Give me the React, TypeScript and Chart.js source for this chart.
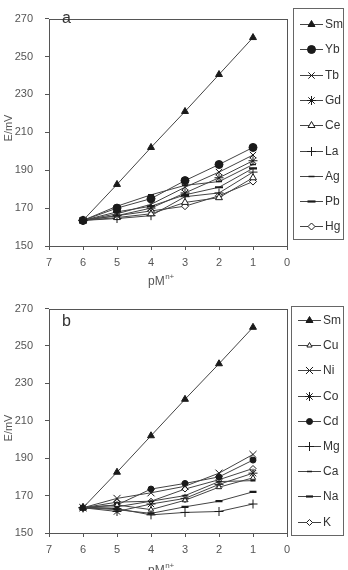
import React, { useEffect, useRef } from 'react';
import { Chart, registerables } from 'chart.js';
import { drawPoint } from 'chart.js/helpers';

Chart.register(...registerables);

// Concentration steps (pM^n+) and axis ticks
const pM = [6, 5, 4, 3, 2, 1];
const xTicks = [7, 6, 5, 4, 3, 2, 1, 0];
const yTicks = [150, 170, 190, 210, 230, 250, 270];

// Panel a: electrode potential (mV) for each ion
const smA = [163.5, 182.5, 202, 221, 240.5, 260];
const ybA = [163.5, 170, 175, 184.5, 193, 202];
const tbA = [163.5, 167, 172, 181, 189, 198];
const gdA = [163.5, 166, 170, 178, 186, 195];
const ceA = [163.5, 165, 167, 173, 175.5, 186];
const laA = [163.5, 164.5, 166, 176, 178, 189];
const agA = [163.5, 171, 177, 182, 184, 193];
const pbA = [163.5, 168, 171, 177, 181, 191];
const hgA = [163.5, 166, 168.5, 171, 176.5, 184];

// Panel b
const smB = [163.5, 182.5, 202, 221.5, 240.5, 260];
const cuB = [163.5, 165, 162.5, 167.5, 174.5, 179.5];
const niB = [163.5, 168.5, 171.5, 175, 182, 192];
const coB = [163.5, 161.5, 165.5, 168.5, 176, 182];
const cdB = [163.5, 165, 173.5, 176.5, 180, 189];
const mgB = [163.5, 163, 159.7, 161, 161.5, 165.5];
const caB = [163.5, 164, 167, 170, 177.5, 178];
const naB = [163.5, 162.5, 160.5, 164, 167, 172];
const kB = [163.5, 166.5, 167, 173.5, 178.5, 184.5];

const FONT = "'Liberation Sans', Arial, sans-serif";
const LINE = '#444';
const MARK = '#1a1a1a';

type Marker = { style: string; r: number; fill: boolean; w?: number };

const filledTri: Marker = { style: 'triangle', r: 4, fill: true };

const seriesA: [string, number[], Marker][] = [
  ['Sm', smA, filledTri],
  ['Yb', ybA, { style: 'circle', r: 4, fill: true }],
  ['Tb', tbA, { style: 'crossRot', r: 4.5, fill: false }],
  ['Gd', gdA, { style: 'star', r: 4.5, fill: false }],
  ['Ce', ceA, { style: 'triangle', r: 4, fill: false }],
  ['La', laA, { style: 'cross', r: 4.5, fill: false }],
  ['Ag', agA, { style: 'line', r: 3, fill: false, w: 1.5 }],
  ['Pb', pbA, { style: 'line', r: 4, fill: false, w: 2.2 }],
  ['Hg', hgA, { style: 'rectRot', r: 3.5, fill: false }],
];

const seriesB: [string, number[], Marker][] = [
  ['Sm', smB, filledTri],
  ['Cu', cuB, { style: 'triangle', r: 3, fill: false }],
  ['Ni', niB, { style: 'crossRot', r: 5, fill: false }],
  ['Co', coB, { style: 'star', r: 4.5, fill: false }],
  ['Cd', cdB, { style: 'circle', r: 3, fill: true }],
  ['Mg', mgB, { style: 'cross', r: 4.5, fill: false }],
  ['Ca', caB, { style: 'line', r: 2.5, fill: false, w: 1.5 }],
  ['Na', naB, { style: 'line', r: 3.5, fill: false, w: 2.2 }],
  ['K', kB, { style: 'rectRot', r: 3, fill: false }],
];

// Draws the plot frame, panel letter, axis titles and the boxed legend
const panelPlugin = {
  id: 'panel',
  afterDraw(chart: any, _args: any, o: any) {
    const { ctx, chartArea: a } = chart;
    ctx.save();
    ctx.strokeStyle = '#555';
    ctx.lineWidth = 1;
    const l = Math.round(a.left) + 0.5;
    const t = Math.round(a.top) + 0.5;
    const r = Math.round(a.right) + 0.5;
    const b = Math.round(a.bottom) + 0.5;
    ctx.strokeRect(l, t, r - l, b - t);

    // panel letter
    ctx.fillStyle = '#333';
    ctx.font = `16px ${FONT}`;
    ctx.textAlign = 'left';
    ctx.textBaseline = 'alphabetic';
    ctx.fillText(o.letter, o.letterX, o.letterY);

    // y title
    ctx.save();
    ctx.translate(o.yTitleX, o.yTitleY);
    ctx.rotate(-Math.PI / 2);
    ctx.font = `11px ${FONT}`;
    ctx.fillStyle = '#555';
    ctx.textAlign = 'center';
    ctx.textBaseline = 'middle';
    ctx.fillText('E/mV', 0, 0);
    ctx.restore();

    // x title pM^n+
    ctx.fillStyle = '#555';
    ctx.font = `12px ${FONT}`;
    ctx.textAlign = 'left';
    ctx.textBaseline = 'alphabetic';
    ctx.fillText('pM', o.xTitleX, o.xTitleY);
    const w = ctx.measureText('pM').width;
    ctx.font = `8px ${FONT}`;
    ctx.fillText('n+', o.xTitleX + w + 0.5, o.xTitleY - 6);

    // legend box
    const L = o.legend;
    ctx.strokeStyle = '#666';
    ctx.lineWidth = 1;
    ctx.strokeRect(L.x0 + 0.5, L.y0 + 0.5, L.x1 - L.x0, L.y1 - L.y0);
    chart.data.datasets.forEach((ds: any, i: number) => {
      const y = Math.round(L.rowTop + i * L.rowGap) + 0.5;
      ctx.strokeStyle = LINE;
      ctx.lineWidth = 1;
      ctx.beginPath();
      ctx.moveTo(L.lineX0, y);
      ctx.lineTo(L.lineX1, y);
      ctx.stroke();
      ctx.fillStyle = ds.pointBackgroundColor;
      ctx.strokeStyle = ds.pointBorderColor;
      ctx.lineWidth = ds.pointBorderWidth;
      drawPoint(
        ctx,
        { pointStyle: ds.pointStyle, radius: ds.pointRadius, borderWidth: ds.pointBorderWidth, rotation: 0 },
        L.markX,
        y
      );
      ctx.fillStyle = '#333';
      ctx.font = `12px ${FONT}`;
      ctx.textAlign = 'left';
      ctx.textBaseline = 'middle';
      ctx.fillText(ds.label, L.textX, y);
    });
    ctx.restore();
  },
};

function buildConfig(series: [string, number[], Marker][], panel: any, padTop: number, xHeight: number) {
  return {
    type: 'line' as const,
    data: {
      datasets: series.map(([label, vals, m]) => ({
        label,
        data: pM.map((x, i) => ({ x, y: vals[i] })),
        borderColor: LINE,
        borderWidth: 1,
        tension: 0,
        fill: false,
        pointStyle: m.style,
        pointRadius: m.r,
        pointBorderWidth: m.w ?? 1,
        pointBackgroundColor: m.fill ? MARK : '#fff',
        pointBorderColor: MARK,
      })),
    },
    options: {
      animation: false,
      responsive: false,
      devicePixelRatio: 1,
      layout: { padding: { top: padTop, right: 61, left: 0, bottom: 0 } },
      plugins: {
        legend: { display: false },
        tooltip: { enabled: false },
        panel,
      },
      scales: {
        x: {
          type: 'linear',
          reverse: true,
          min: xTicks[xTicks.length - 1],
          max: xTicks[0],
          afterBuildTicks: (s: any) => {
            s.ticks = xTicks.map((v) => ({ value: v }));
          },
          afterFit: (s: any) => {
            s.height = xHeight;
          },
          ticks: { color: '#555', font: { size: 11, family: FONT }, padding: 6, maxRotation: 0 },
          grid: { drawOnChartArea: false, drawTicks: true, tickLength: 4, color: '#555' },
          border: { display: false },
        },
        y: {
          type: 'linear',
          min: yTicks[0],
          max: yTicks[yTicks.length - 1],
          afterBuildTicks: (s: any) => {
            s.ticks = yTicks.map((v) => ({ value: v }));
          },
          afterFit: (s: any) => {
            s.width = 49;
          },
          ticks: { color: '#555', font: { size: 11, family: FONT }, padding: 12 },
          grid: { drawOnChartArea: false, drawTicks: true, tickLength: 4, color: '#555' },
          border: { display: false },
        },
      },
    },
    plugins: [panelPlugin],
  };
}

function Panel(props: { top: number; height: number; series: any; panel: any; padTop: number; xHeight: number }) {
  const ref = useRef<HTMLCanvasElement>(null);
  useEffect(() => {
    const chart = new Chart(ref.current as HTMLCanvasElement, buildConfig(props.series, props.panel, props.padTop, props.xHeight) as any);
    return () => chart.destroy();
  }, []);
  return (
    <canvas
      ref={ref}
      width={348}
      height={props.height}
      style={{ position: 'absolute', left: 0, top: props.top, width: 348, height: props.height }}
    />
  );
}

export default function App() {
  const panelA = {
    letter: 'a',
    letterX: 62,
    letterY: 23,
    yTitleX: 9,
    yTitleY: 128,
    xTitleX: 148,
    xTitleY: 285,
    legend: { x0: 293, x1: 343, y0: 8, y1: 239, rowTop: 24, rowGap: 25.3, lineX0: 300, lineX1: 323, markX: 311.5, textX: 325 },
  };
  const panelB = {
    letter: 'b',
    letterX: 62,
    letterY: 36,
    yTitleX: 9,
    yTitleY: 138,
    xTitleX: 148,
    xTitleY: 284,
    legend: { x0: 291, x1: 343, y0: 16, y1: 245, rowTop: 30, rowGap: 25.2, lineX0: 298, lineX1: 321, markX: 309.5, textX: 323 },
  };
  return (
    <div style={{ position: 'absolute', left: 0, top: 0, width: 348, height: 570, background: '#fff', overflow: 'hidden' }}>
      <Panel top={0} height={290} series={seriesA} panel={panelA} padTop={7} xHeight={44} />
      <Panel top={290} height={280} series={seriesB} panel={panelB} padTop={16} xHeight={37} />
    </div>
  );
}
